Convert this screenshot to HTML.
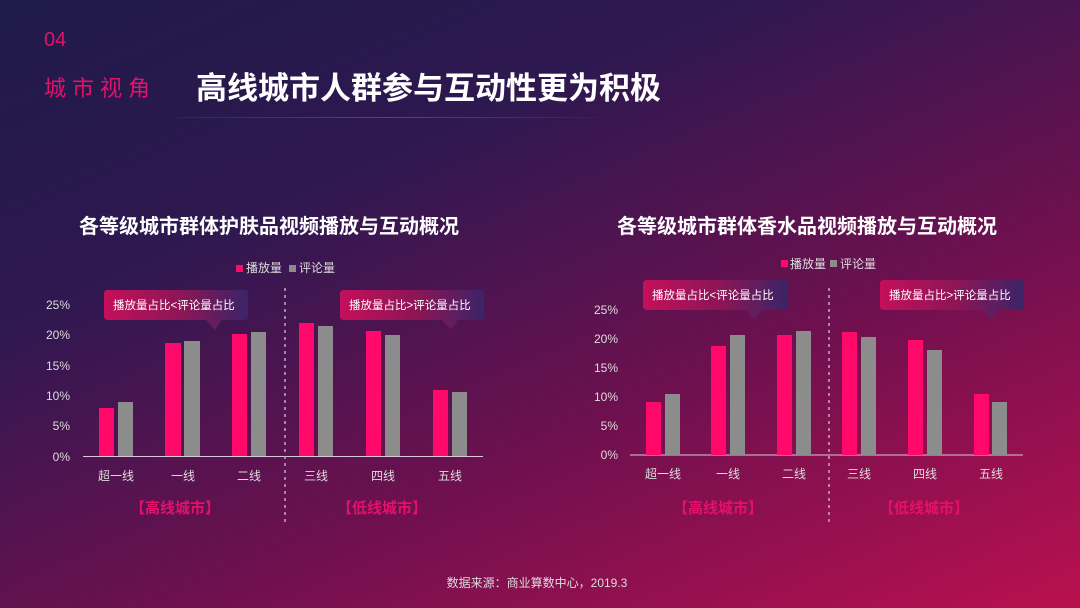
<!DOCTYPE html>
<html><head><meta charset="utf-8"><style>
html,body{margin:0;padding:0;width:1080px;height:608px;overflow:hidden;}
svg text{font-family:"Liberation Sans","Noto Sans CJK SC",sans-serif;}
</style></head><body>
<svg width="1080" height="608" viewBox="0 0 1080 608" xmlns="http://www.w3.org/2000/svg">
<defs>
<linearGradient id="bg" x1="0" y1="0" x2="0.85" y2="1.1">
<stop offset="0" stop-color="#1f1a48"/>
<stop offset="0.3" stop-color="#2e1850"/>
<stop offset="0.65" stop-color="#70104f"/>
<stop offset="1" stop-color="#b8104f"/>
</linearGradient>
<linearGradient id="cb" x1="0" y1="0" x2="1" y2="0">
<stop offset="0" stop-color="#c4105a"/>
<stop offset="0.55" stop-color="#8a1656"/>
<stop offset="1" stop-color="#3a2468"/>
</linearGradient>
<linearGradient id="hl" x1="0" y1="0" x2="1" y2="0">
<stop offset="0" stop-color="#ffffff" stop-opacity="0.05"/>
<stop offset="0.5" stop-color="#ffffff" stop-opacity="0.2"/>
<stop offset="1" stop-color="#ffffff" stop-opacity="0.03"/>
</linearGradient>
</defs>
<rect width="1080" height="608" fill="url(#bg)"/>
<text x="44" y="46" fill="#e5106a" font-size="20">04</text>
<text x="44" y="96" fill="#e5106a" font-size="22" letter-spacing="6">城市视角</text>
<text x="196" y="99" fill="#fff" font-size="31" font-weight="bold">高线城市人群参与互动性更为积极</text>
<rect x="178" y="117" width="420" height="1" fill="url(#hl)"/>

<!-- Left chart -->
<text x="269" y="233" fill="#fff" font-size="20" font-weight="bold" text-anchor="middle">各等级城市群体护肤品视频播放与互动概况</text>
<rect x="236" y="265" width="7" height="7" fill="#ff0a6a"/>
<text x="246" y="272" fill="#ddd" font-size="12">播放量</text>
<rect x="289" y="265" width="7" height="7" fill="#8c8c8c"/>
<text x="299" y="272" fill="#ddd" font-size="12">评论量</text>
<g fill="#ddd" font-size="12" text-anchor="end">
<text x="70" y="309">25%</text><text x="70" y="339">20%</text><text x="70" y="370">15%</text>
<text x="70" y="400">10%</text><text x="70" y="430">5%</text><text x="70" y="461">0%</text>
</g>
<line x1="83" y1="456.5" x2="483" y2="456.5" stroke="#d8c8d8" stroke-width="1"/>
<line x1="285" y1="288" x2="285" y2="522" stroke="#c8a8c0" stroke-width="1.5" stroke-dasharray="3,4"/>
<g fill="#ff0a6a">
<rect x="99" y="408" width="15" height="48"/><rect x="165" y="343" width="16" height="113"/>
<rect x="232" y="334" width="15" height="122"/><rect x="299" y="323" width="15" height="133"/>
<rect x="366" y="331" width="15" height="125"/><rect x="433" y="390" width="15" height="66"/>
</g>
<g fill="#8c8c8c">
<rect x="118" y="402" width="15" height="54"/><rect x="184" y="341" width="16" height="115"/>
<rect x="251" y="332" width="15" height="124"/><rect x="318" y="326" width="15" height="130"/>
<rect x="385" y="335" width="15" height="121"/><rect x="452" y="392" width="15" height="64"/>
</g>
<g fill="#ddd" font-size="12" text-anchor="middle">
<text x="116" y="480">超一线</text><text x="183" y="480">一线</text><text x="249" y="480">二线</text>
<text x="316" y="480">三线</text><text x="383" y="480">四线</text><text x="450" y="480">五线</text>
</g>
<g fill="#e5106a" font-size="15" font-weight="bold" text-anchor="middle">
<text x="175" y="513">【高线城市】</text><text x="382" y="513">【低线城市】</text>
</g>
<path d="M108 290 H244 Q248 290 248 294 V316 Q248 320 244 320 H222 L215 330 L206 320 H108 Q104 320 104 316 V294 Q104 290 108 290Z" fill="url(#cb)"/>
<text x="113" y="309" fill="#fff" font-size="11.5">播放量占比&lt;评论量占比</text>
<path d="M344 290 H480 Q484 290 484 294 V316 Q484 320 480 320 H458 L451 330 L442 320 H344 Q340 320 340 316 V294 Q340 290 344 290Z" fill="url(#cb)"/>
<text x="349" y="309" fill="#fff" font-size="11.5">播放量占比&gt;评论量占比</text>

<!-- Right chart -->
<text x="807" y="233" fill="#fff" font-size="20" font-weight="bold" text-anchor="middle">各等级城市群体香水品视频播放与互动概况</text>
<rect x="781" y="260" width="7" height="7" fill="#ff0a6a"/>
<text x="790" y="268" fill="#ddd" font-size="12">播放量</text>
<rect x="830" y="260" width="7" height="7" fill="#8c8c8c"/>
<text x="840" y="268" fill="#ddd" font-size="12">评论量</text>
<g fill="#ddd" font-size="12" text-anchor="end">
<text x="618" y="314">25%</text><text x="618" y="343">20%</text><text x="618" y="372">15%</text>
<text x="618" y="401">10%</text><text x="618" y="430">5%</text><text x="618" y="459">0%</text>
</g>
<line x1="630" y1="455" x2="1023" y2="455" stroke="#d8c8d8" stroke-width="1"/>
<line x1="829" y1="288" x2="829" y2="522" stroke="#c8a8c0" stroke-width="1.5" stroke-dasharray="3,4"/>
<g fill="#ff0a6a">
<rect x="646" y="402" width="15" height="53"/><rect x="711" y="346" width="15" height="109"/>
<rect x="777" y="335" width="15" height="120"/><rect x="842" y="332" width="15" height="123"/>
<rect x="908" y="340" width="15" height="115"/><rect x="974" y="394" width="15" height="61"/>
</g>
<g fill="#8c8c8c">
<rect x="665" y="394" width="15" height="61"/><rect x="730" y="335" width="15" height="120"/>
<rect x="796" y="331" width="15" height="124"/><rect x="861" y="337" width="15" height="118"/>
<rect x="927" y="350" width="15" height="105"/><rect x="992" y="402" width="15" height="53"/>
</g>
<g fill="#ddd" font-size="12" text-anchor="middle">
<text x="663" y="478">超一线</text><text x="728" y="478">一线</text><text x="794" y="478">二线</text>
<text x="859" y="478">三线</text><text x="925" y="478">四线</text><text x="991" y="478">五线</text>
</g>
<g fill="#e5106a" font-size="15" font-weight="bold" text-anchor="middle">
<text x="718" y="513">【高线城市】</text><text x="924" y="513">【低线城市】</text>
</g>
<path d="M647 280 H784 Q788 280 788 284 V306 Q788 310 784 310 H762 L755 320 L746 310 H647 Q643 310 643 306 V284 Q643 280 647 280Z" fill="url(#cb)"/>
<text x="652" y="299" fill="#fff" font-size="11.5">播放量占比&lt;评论量占比</text>
<path d="M884 280 H1020 Q1024 280 1024 284 V306 Q1024 310 1020 310 H998 L991 320 L982 310 H884 Q880 310 880 306 V284 Q880 280 884 280Z" fill="url(#cb)"/>
<text x="889" y="299" fill="#fff" font-size="11.5">播放量占比&gt;评论量占比</text>

<text x="537" y="587" fill="#ddd" font-size="12" text-anchor="middle">数据来源：商业算数中心，2019.3</text>
</svg>
</body></html>
